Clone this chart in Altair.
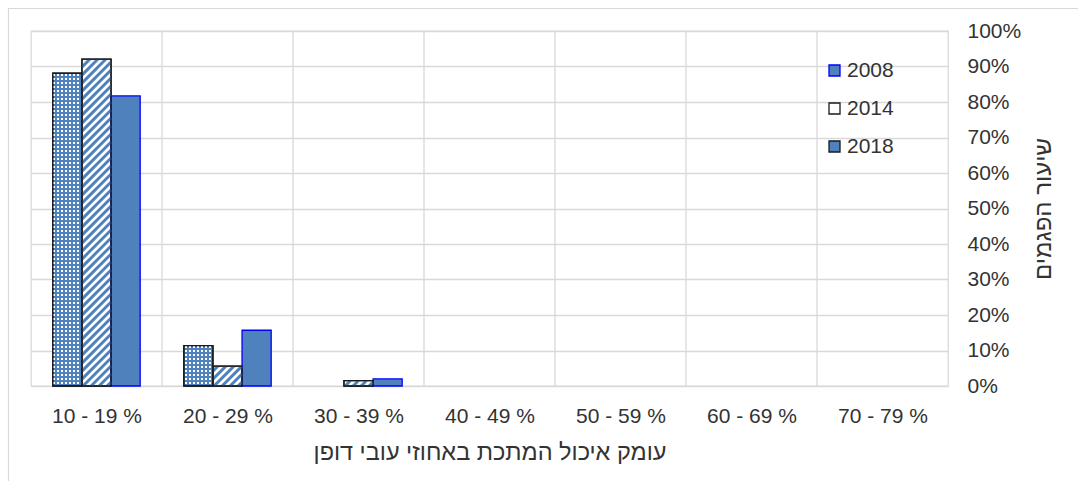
import json
import math

import altair as alt
import pandas as pd

# Corrosion depth bands (share of wall thickness) and defect shares per survey year
categories = ["10 - 19 %", "20 - 29 %", "30 - 39 %", "40 - 49 %",
              "50 - 59 %", "60 - 69 %", "70 - 79 %"]
years = ["2018", "2014", "2008"]          # left-to-right order inside a group
legend_years = ["2008", "2014", "2018"]   # top-to-bottom order in the legend
share_2008 = [81.7, 15.7, 2.0, 0, 0, 0, 0]
share_2014 = [92.1, 5.6, 1.5, 0, 0, 0, 0]
share_2018 = [88.1, 11.4, 0, 0, 0, 0, 0]
y_ticks = list(range(0, 101, 10))

x_title = "עומק איכול המתכת באחוזי עובי דופן"
y_title = "שיעור הפגמים"

# ---- layout / style ----
W, H = 917, 355
BLUE = "#4f81bd"
EDGE_BLUE = "#0000ff"
EDGE_DARK = "#1a1a1a"
GRID = "#d9d9d9"
TEXT = "#333333"
FONT = "Liberation Sans"
GAP = 1.5                  # gap between groups, in bar widths
SLOT = 1.0 / (len(years) + GAP)
PX_X = W / len(categories)  # pixels per category unit
PX_Y = H / 100.0            # pixels per percent
CELL = 2                    # dot size and dot spacing of the 2018 texture (px)
PERIOD = 8.0                # stripe repeat (px, horizontal)

values = {"2008": share_2008, "2014": share_2014, "2018": share_2018}

bar_rows = []
for i, cat in enumerate(categories):
    for j, yr in enumerate(years):
        v = values[yr][i]
        if v <= 0:
            continue
        x0 = i + (GAP / 2 + j) * SLOT
        bar_rows.append({"category": cat, "year": yr, "value": v, "base": 0,
                         "x0": x0, "x1": x0 + SLOT})
bars = pd.DataFrame(bar_rows)

# small-grid texture for 2018 bars: white squares on a pixel-aligned grid,
# clipped to each blue bar
cell_rows = []
for b in bar_rows:
    if b["year"] != "2018":
        continue
    left_px, right_px = b["x0"] * PX_X, b["x1"] * PX_X
    h_px = b["value"] * PX_Y
    k0 = int(math.floor(left_px / CELL))
    k1 = int(math.ceil(right_px / CELL))
    for r in range(int(math.ceil(h_px / CELL))):
        if r % 2 == 0:
            continue
        for k in range(k0, k1):
            if k % 2 == 0:
                continue
            u0, u1 = max(left_px, k * CELL), min(right_px, (k + 1) * CELL)
            h0, h1 = r * CELL, min(h_px, (r + 1) * CELL)
            if u1 <= u0:
                continue
            cell_rows.append({"x0": u0 / PX_X, "x1": u1 / PX_X,
                              "value": h1 / PX_Y, "base": h0 / PX_Y})
cells = pd.DataFrame(cell_rows)

# diagonal "/" stripe texture for 2014 bars
stripe_rows = []
for b in bar_rows:
    if b["year"] != "2014":
        continue
    w_px = (b["x1"] - b["x0"]) * PX_X
    h_px = b["value"] * PX_Y
    c = -w_px + PERIOD / 2
    while c < h_px:
        ua, ub = max(0.0, -c), min(w_px, h_px - c)
        if ub > ua:
            stripe_rows.append({"x0": b["x0"] + ua / PX_X, "value": (ua + c) / PX_Y,
                                "x1": b["x0"] + ub / PX_X, "base": (ub + c) / PX_Y})
        c += PERIOD
stripes = pd.DataFrame(stripe_rows)

x_scale = alt.Scale(domain=[0, len(categories)], nice=False, zero=False)
y_scale = alt.Scale(domain=[0, 100], nice=False)

x_axis = alt.Axis(
    values=[i + 0.5 for i in range(len(categories))],
    labelExpr=json.dumps(categories) + "[floor(datum.value)]",
    grid=False, ticks=False, domain=False,
    labelFontSize=21, labelColor=TEXT, labelFont=FONT, labelPadding=19,
    title=x_title, titleFontSize=23.5, titleFontWeight="normal",
    titleColor=TEXT, titleFont=FONT, titleY=66, titleBaseline="middle",
)
y_axis = alt.Axis(
    orient="right", values=y_ticks, labelExpr="datum.value + '%'",
    grid=True, gridColor=GRID, gridWidth=1.3, ticks=False, domain=False,
    labelFontSize=21, labelColor=TEXT, labelFont=FONT, labelPadding=19,
    labelBaseline="middle",
    title=y_title, titleFontSize=24, titleFontWeight="normal",
    titleColor=TEXT, titleFont=FONT, titleAngle=270,
    titleAlign="center", titleBaseline="middle",
    titleX=95, titleY=H / 2,
)

legend = alt.Legend(
    title=None, orient="none", legendX=793, legendY=29, direction="vertical",
    symbolType="square", symbolSize=121, symbolStrokeWidth=1.3,
    labelFontSize=21, labelColor=TEXT, labelFont=FONT, labelOffset=2,
    rowPadding=16, padding=0,
)

X = alt.X("x0:Q", scale=x_scale, axis=x_axis)
Y = alt.Y("value:Q", scale=y_scale, axis=y_axis)

# bars with fill/stroke per year (also drives the legend)
base = alt.Chart(bars).mark_bar(strokeWidth=1.3).encode(
    x=X, x2="x1:Q", y=Y, y2="base:Q",
    fill=alt.Fill("year:N", scale=alt.Scale(domain=legend_years,
                                            range=[BLUE, "#ffffff", BLUE]),
                  legend=legend),
    stroke=alt.Stroke("year:N", scale=alt.Scale(domain=legend_years,
                                                range=[EDGE_BLUE, EDGE_DARK, EDGE_DARK]),
                      legend=legend),
)

# vertical gridlines at category boundaries
vgrid = alt.Chart(pd.DataFrame({"x0": list(range(1, len(categories)))})).mark_rule(
    color=GRID, strokeWidth=1.3
).encode(x=X)

checker = alt.Chart(cells).mark_rect(fill="#ffffff", strokeWidth=0).encode(
    x=X, x2="x1:Q", y=Y, y2="base:Q",
)

hatch = alt.Chart(stripes).mark_rule(color=BLUE, strokeWidth=2.9, strokeCap="butt").encode(
    x=X, x2="x1:Q", y=Y, y2="base:Q",
)

outline = alt.Chart(bars).transform_filter(
    "datum.year != '2008'"
).mark_bar(fillOpacity=0, stroke=EDGE_DARK, strokeWidth=1.3).encode(
    x=X, x2="x1:Q", y=Y, y2="base:Q",
)

# outer chart-area frame
frame = alt.Chart(alt.Data(values=[{}])).mark_rect(
    fillOpacity=0, stroke=GRID, strokeWidth=1.2
).encode(
    x=alt.value(-22.5), x2=alt.value(W + 200),
    y=alt.value(-22.5), y2=alt.value(H + 200),
)

chart = alt.layer(base, vgrid, checker, hatch, outline, frame).properties(
    width=W, height=H,
    padding={"left": 31, "top": 31, "right": 130, "bottom": 95},
    autosize=alt.AutoSizeParams(type="none"),
).configure(font=FONT).configure_view(stroke=GRID, strokeWidth=1.3)

chart.save("out.html", embed_options={"renderer": "svg", "actions": False})
